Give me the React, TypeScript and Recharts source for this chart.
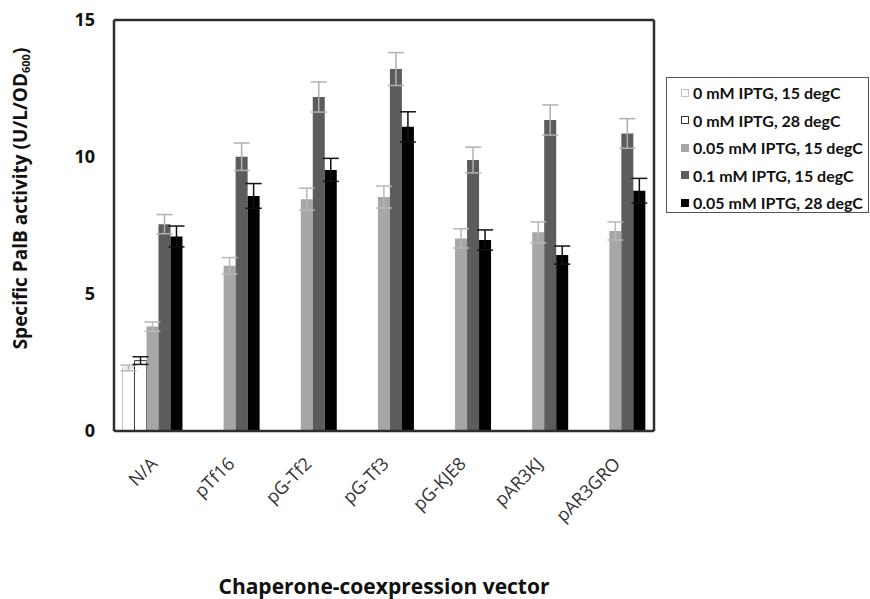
import {
  BarChart,
  Bar,
  XAxis,
  YAxis,
  CartesianGrid,
  ErrorBar,
  Legend,
  Label,
} from "recharts";

// values
const vectors = ["N/A", "pTf16", "pG-Tf2", "pG-Tf3", "pG-KJE8", "pAR3KJ", "pAR3GRO"];

const iptg0at15 = [2.3, null, null, null, null, null, null];
const iptg0at15Err = [0.1, null, null, null, null, null, null];
const iptg0at28 = [2.57, null, null, null, null, null, null];
const iptg0at28Err = [0.14, null, null, null, null, null, null];
const iptg005at15 = [3.81, 6.03, 8.46, 8.54, 7.03, 7.25, 7.3];
const iptg005at15Err = [0.17, 0.3, 0.4, 0.4, 0.35, 0.38, 0.33];
const iptg01at15 = [7.55, 10.01, 12.19, 13.21, 9.89, 11.35, 10.86];
const iptg01at15Err = [0.35, 0.5, 0.55, 0.6, 0.47, 0.55, 0.54];
const iptg005at28 = [7.1, 8.58, 9.53, 11.1, 6.97, 6.42, 8.77];
const iptg005at28Err = [0.38, 0.45, 0.42, 0.55, 0.37, 0.33, 0.45];

const yTicks = [0, 5, 10, 15];

const series = [
  { key: "a", name: "0 mM IPTG, 15 degC", fill: "#ffffff", stroke: "#c4c4c4", err: "#b4b4b4" },
  { key: "b", name: "0 mM IPTG, 28 degC", fill: "#ffffff", stroke: "#3a3a3a", err: "#1a1a1a" },
  { key: "c", name: "0.05 mM IPTG, 15 degC", fill: "#a6a6a6", stroke: "none", err: "#b8b8b8" },
  { key: "d", name: "0.1 mM IPTG, 15 degC", fill: "#5c5c5c", stroke: "none", err: "#b0b0b0" },
  { key: "e", name: "0.05 mM IPTG, 28 degC", fill: "#000000", stroke: "none", err: "#111111" },
];

const data = vectors.map((v, i) => ({
  name: v,
  a: iptg0at15[i], aErr: iptg0at15Err[i],
  b: iptg0at28[i], bErr: iptg0at28Err[i],
  c: iptg005at15[i], cErr: iptg005at15Err[i],
  d: iptg01at15[i], dErr: iptg01at15Err[i],
  e: iptg005at28[i], eErr: iptg005at28Err[i],
}));

const LATO = "Lato, 'Open Sans', sans-serif";
const OPEN = "'Open Sans', Lato, sans-serif";
const BORDER = "#2e2e2e";

const XTick = ({ x, y, payload }: any) => (
  <g transform={`translate(${x + 6},${y + 32})`}>
    <text
      textAnchor="end"
      transform="rotate(-45)"
      fontSize={18}
      fontFamily={OPEN}
      fill="#333"
    >
      {payload.value}
    </text>
  </g>
);

const YTitle = ({ viewBox }: any) => {
  const cx = viewBox.x + 27;
  const cy = viewBox.y + viewBox.height / 2 - 27;
  return (
    <text
      x={cx}
      y={cy}
      transform={`rotate(-90, ${cx}, ${cy})`}
      textAnchor="middle"
      fontSize={19}
      fontWeight={700}
      fontFamily={OPEN}
      fill="#111"
    >
      Specific PalB activity (U/L/OD
      <tspan fontSize={11} dy={3}>600</tspan>
      <tspan dy={-3}>)</tspan>
    </text>
  );
};

const LegendBox = () => (
  <div
    style={{
      width: 203,
      height: 136,
      border: "1px solid #555",
      background: "#fff",
      boxSizing: "border-box",
      paddingTop: 1,
      fontFamily: LATO,
      fontWeight: 700,
      fontSize: 16,
      color: "#111",
      whiteSpace: "nowrap",
    }}
  >
    {series.map((s) => (
      <div key={s.key} style={{ display: "flex", alignItems: "center", height: 27.5, paddingLeft: 14 }}>
        <span
          style={{
            display: "inline-block",
            width: 8,
            height: 8,
            boxSizing: "border-box",
            background: s.fill,
            border: s.stroke === "none" ? "none" : `1px solid ${s.stroke}`,
            marginRight: 4,
          }}
        />
        {s.name}
      </div>
    ))}
  </div>
);

export default function App() {
  return (
    <div style={{ position: "absolute", left: 0, top: 0, background: "#fff" }}>
      <BarChart
        width={870}
        height={599}
        data={data}
        margin={{ top: 19, right: 215, bottom: 0, left: 0 }}
        barCategoryGap="11%"
        barGap={0}
      >
        <CartesianGrid vertical={false} stroke="#a8a8a8" strokeWidth={1.5} />
        <XAxis
          dataKey="name"
          xAxisId="bottom"
          height={168}
          interval={0}
          tickLine={false}
          tickSize={0}
          tick={<XTick />}
          axisLine={{ stroke: BORDER, strokeWidth: 2.5 }}
        >
          <Label
            value="Chaperone-coexpression vector"
            position="insideBottom"
            offset={5}
            style={{ fontSize: 21, fontWeight: 700, fontFamily: OPEN, fill: "#111" }}
          />
        </XAxis>
        <XAxis
          dataKey="name"
          xAxisId="top"
          orientation="top"
          height={1}
          tick={false}
          tickLine={false}
          axisLine={{ stroke: BORDER, strokeWidth: 2.5 }}
        />
        <YAxis
          yAxisId="left"
          width={114}
          domain={[0, 15]}
          ticks={yTicks}
          tickLine={false}
          tickSize={0}
          tickMargin={19}
          tick={{ fontSize: 18, fontWeight: 700, fontFamily: OPEN, fill: "#111" }}
          axisLine={{ stroke: BORDER, strokeWidth: 2.5 }}
        >
          <Label content={<YTitle />} />
        </YAxis>
        <YAxis
          yAxisId="right"
          orientation="right"
          width={1}
          domain={[0, 15]}
          tick={false}
          tickLine={false}
          axisLine={{ stroke: BORDER, strokeWidth: 2.5 }}
        />
        <Legend
          layout="vertical"
          align="center"
          verticalAlign="middle"
          content={<LegendBox />}
          wrapperStyle={{ left: 666, top: 77, width: 203, height: 136 }}
        />
        {series.map((s) => (
          <Bar
            key={s.key}
            dataKey={s.key}
            name={s.name}
            xAxisId="bottom"
            yAxisId="left"
            fill={s.fill}
            stroke={s.stroke}
            strokeWidth={1}
            isAnimationActive={false}
          >
            <ErrorBar dataKey={`${s.key}Err`} width={8} stroke={s.err} strokeWidth={1.5} />
          </Bar>
        ))}
      </BarChart>
    </div>
  );
}
